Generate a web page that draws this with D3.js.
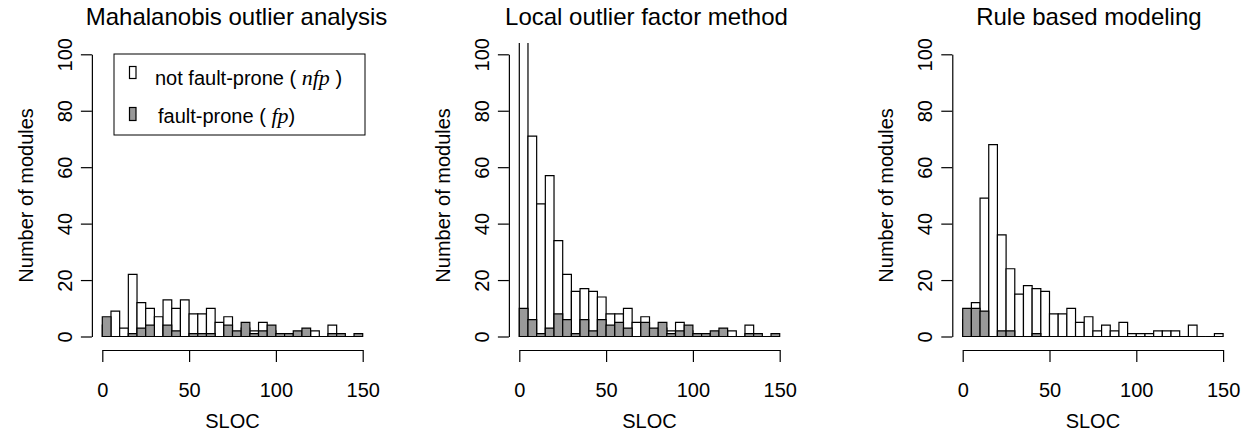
<!DOCTYPE html>
<html>
<head>
<meta charset="utf-8">
<script src="https://cdn.jsdelivr.net/npm/d3@7"></script>
<style>
  body { margin: 0; background: #fff; }
  svg { display: block; }
  text { font-family: "Liberation Sans", Arial, Helvetica, sans-serif; fill: #000; }
  .axis path, .axis line { stroke: #000; stroke-width: 1.2; }
  .math { font-family: "Liberation Serif", "DejaVu Serif", serif; font-style: italic; font-size: 22px; }
</style>
</head>
<body>
<svg id="chart" width="1248" height="433"></svg>
<script>
// bin left edges (SLOC), every bin is 5 wide
const binStarts = [0, 5, 10, 15, 20, 25, 30, 35, 40, 45, 50, 55, 60, 65, 70,
                   75, 80, 85, 90, 95, 100, 105, 110, 115, 120, 125, 130, 135, 140, 145];
const binWidth = 5;

const titles = ["Mahalanobis outlier analysis", "Local outlier factor method", "Rule based modeling"];

// not fault-prone counts per bin
const nfpMahalanobis = [4, 9, 3, 22, 12, 10, 7, 13, 10, 13, 8, 8, 10, 5, 7, 1, 3, 2, 5, 2, 0, 0, 1, 1, 2, 0, 4, 0, 0, 0];
const nfpLof         = [140, 71, 47, 57, 34, 22, 16, 17, 16, 14, 8, 8, 10, 5, 7, 2, 3, 2, 5, 2, 0, 0, 1, 1, 2, 0, 4, 0, 0, 0];
const nfpRule        = [6, 12, 49, 68, 36, 24, 15, 18, 17, 16, 8, 8, 10, 5, 7, 2, 4, 2, 5, 1, 1, 1, 2, 2, 2, 0, 4, 0, 0, 1];

// fault-prone counts per bin
const fpMahalanobis = [7, 0, 0, 1, 3, 4, 0, 4, 2, 0, 1, 1, 1, 0, 4, 2, 5, 1, 2, 4, 1, 1, 2, 3, 0, 0, 1, 1, 0, 1];
const fpLof         = [10, 6, 1, 3, 8, 6, 1, 6, 2, 6, 4, 5, 3, 0, 5, 3, 5, 1, 2, 4, 1, 1, 2, 3, 0, 0, 1, 1, 0, 1];
const fpRule        = [10, 10, 9, 0, 2, 2, 0, 0, 1, 0, 0, 0, 0, 0, 0, 0, 0, 0, 0, 0, 0, 0, 0, 0, 0, 0, 0, 0, 0, 0];

const yTicks = [0, 20, 40, 60, 80, 100];
const xTicks = [0, 50, 100, 150];

const panels = [
  {title: titles[0], nfp: nfpMahalanobis, fp: fpMahalanobis, x0: 102.3, titleShift: 4, legend: true},
  {title: titles[1], nfp: nfpLof, fp: fpLof, x0: 519.3, titleShift: -3},
  {title: titles[2], nfp: nfpRule, fp: fpRule, x0: 962.7, titleShift: -4}
];

const plotW = 260.4;     // width of 0..150
const y0 = 336.5, y100 = 54.3;
const xAxisY = 350;
const grey = "#999999";

const svg = d3.select("#chart");

/**
 * Draws one histogram panel
 */
function drawPanel(p, idx) {
  const x = d3.scaleLinear().domain([0, 150]).range([p.x0, p.x0 + plotW]);
  const y = d3.scaleLinear().domain([0, 100]).range([y0, y100]);
  const ext = 150 * 0.04;
  const left = x(-ext), right = x(150 + ext);
  const g = svg.append("g");

  // clip at the top of the plotting region (R usr extends 4%)
  g.append("clipPath").attr("id", "clip" + idx)
    .append("rect")
    .attr("x", left).attr("y", y(104))
    .attr("width", right - left).attr("height", y(-4) - y(104));

  const bars = g.append("g").attr("clip-path", "url(#clip" + idx + ")");

  // bars as paths so empty bins still leave a line on the baseline
  const barPath = (d, i) => {
    const xa = x(binStarts[i]), xb = x(binStarts[i] + binWidth);
    return "M" + xa + "," + y(0) + "V" + y(d) + "H" + xb + "V" + y(0) + "Z";
  };

  bars.selectAll("path.nfp").data(p.nfp).join("path")
    .attr("class", "nfp")
    .attr("d", barPath)
    .attr("fill", "#fff").attr("stroke", "#000").attr("stroke-width", 1.2);

  bars.selectAll("path.fp").data(p.fp).join("path")
    .attr("class", "fp")
    .attr("d", barPath)
    .attr("fill", grey).attr("stroke", "#000").attr("stroke-width", 1.2);

  // y axis
  const ya = g.append("g").attr("class", "axis")
    .attr("transform", "translate(" + left + ",0)")
    .call(d3.axisLeft(y).tickValues(yTicks).tickSize(11).tickSizeOuter(0));
  ya.attr("font-family", null);
  ya.selectAll("text")
    .attr("x", null).attr("dy", null).attr("y", null)
    .attr("transform", "translate(-20,0) rotate(-90)")
    .style("text-anchor", "middle")
    .style("font-size", "20px");

  // x axis
  const xa = g.append("g").attr("class", "axis")
    .attr("transform", "translate(0," + xAxisY + ")")
    .call(d3.axisBottom(x).tickValues(xTicks).tickSize(12).tickSizeOuter(0));
  xa.attr("font-family", null);
  xa.selectAll("text").attr("y", 47).attr("dy", null).style("font-size", "20px");

  // labels
  g.append("text")
    .attr("x", (left + right) / 2 + p.titleShift).attr("y", 25)
    .attr("text-anchor", "middle").style("font-size", "24px")
    .text(p.title);
  g.append("text")
    .attr("x", (left + right) / 2).attr("y", 428)
    .attr("text-anchor", "middle").style("font-size", "20px")
    .text("SLOC");
  g.append("text")
    .attr("transform", "translate(" + (left - 59) + "," + ((y0 + y100) / 2) + ") rotate(-90)")
    .attr("text-anchor", "middle").style("font-size", "20px")
    .text("Number of modules");

  if (p.legend) drawLegend(g);
}

/**
 * Legend of the first panel
 */
function drawLegend(g) {
  g.append("rect").attr("x", 114).attr("y", 54).attr("width", 251).attr("height", 81)
    .attr("fill", "#fff").attr("stroke", "#000").attr("stroke-width", 1);
  g.append("rect").attr("x", 129.5).attr("y", 66.5).attr("width", 6.5).attr("height", 12)
    .attr("fill", "#fff").attr("stroke", "#000").attr("stroke-width", 1.2);
  g.append("rect").attr("x", 129.5).attr("y", 107.5).attr("width", 6.5).attr("height", 13)
    .attr("fill", grey).attr("stroke", "#000").attr("stroke-width", 1.2);

  const t1 = g.append("text").attr("x", 155).attr("y", 85).style("font-size", "20px");
  t1.append("tspan").text("not fault-prone ( ");
  t1.append("tspan").attr("class", "math").text("nfp");
  t1.append("tspan").text(" )");

  const t2 = g.append("text").attr("x", 158).attr("y", 123).style("font-size", "20px");
  t2.append("tspan").text("fault-prone ( ");
  t2.append("tspan").attr("class", "math").text("fp");
  t2.append("tspan").text(")");
}

panels.forEach(drawPanel);
</script>
</body>
</html>
